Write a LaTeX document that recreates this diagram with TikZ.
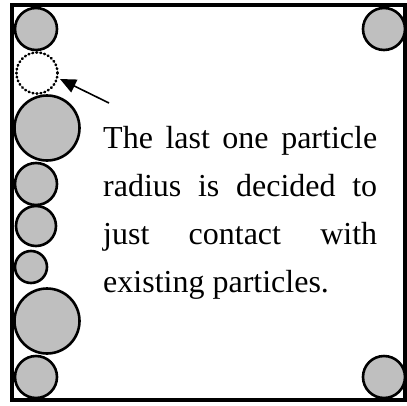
\documentclass[tikz,border=0pt]{standalone}
\usepackage{fontspec}
\setmainfont{Liberation Serif}
\usetikzlibrary{arrows.meta}
\tikzset{
  particle/.style={circle, draw=black, fill=black!25, line width=2.6pt, inner sep=0pt},
  lastparticle/.style={circle, draw=black, fill=white, line width=2.6pt, line cap=round, dash pattern=on 0.8pt off 3.2pt, inner sep=0pt},
  frame/.style={line width=4pt},
  pointer/.style={line width=1.6pt, -{Triangle[length=16pt,width=14pt]}},
  txt/.style={inner sep=0pt, anchor=base west, font=\fontsize{32}{48}\selectfont}
}
\begin{document}
\begin{tikzpicture}[x=1pt,y=-1pt]
\useasboundingbox (0,0) rectangle (407,405);
\draw[frame] (12,5) rectangle (405,400);
% left column
\node[particle, minimum size=42pt] (c1) at (36,29) {};
\node[lastparticle, minimum size=41pt] (c2) at (37,73) {};
\node[particle, minimum size=65pt] (c3) at (47,128) {};
\node[particle, minimum size=42pt] (c4) at (36,184) {};
\node[particle, minimum size=40pt] (c5) at (36,226) {};
\node[particle, minimum size=32pt] (c6) at (31,267) {};
\node[particle, minimum size=65pt] (c7) at (47,321) {};
\node[particle, minimum size=42pt] (c8) at (36,377) {};
% right corners
\node[particle, minimum size=42pt] (c9) at (384,29) {};
\node[particle, minimum size=42pt] (c10) at (384,377) {};
% arrow
\coordinate (tail) at (109,103);
\coordinate (tip) at (60,79);
\draw[pointer] (tail) -- (tip);
% text
\node[txt] (l1) at (103,148) {\makebox[274pt][s]{The last one particle}};
\node[txt] (l2) at (103,196) {\makebox[274pt][s]{radius is decided to}};
\node[txt] (l3) at (103,244) {\makebox[274pt][s]{just contact with}};
\node[txt] (l4) at (103,292) {existing particles.};
\end{tikzpicture}
\end{document}
